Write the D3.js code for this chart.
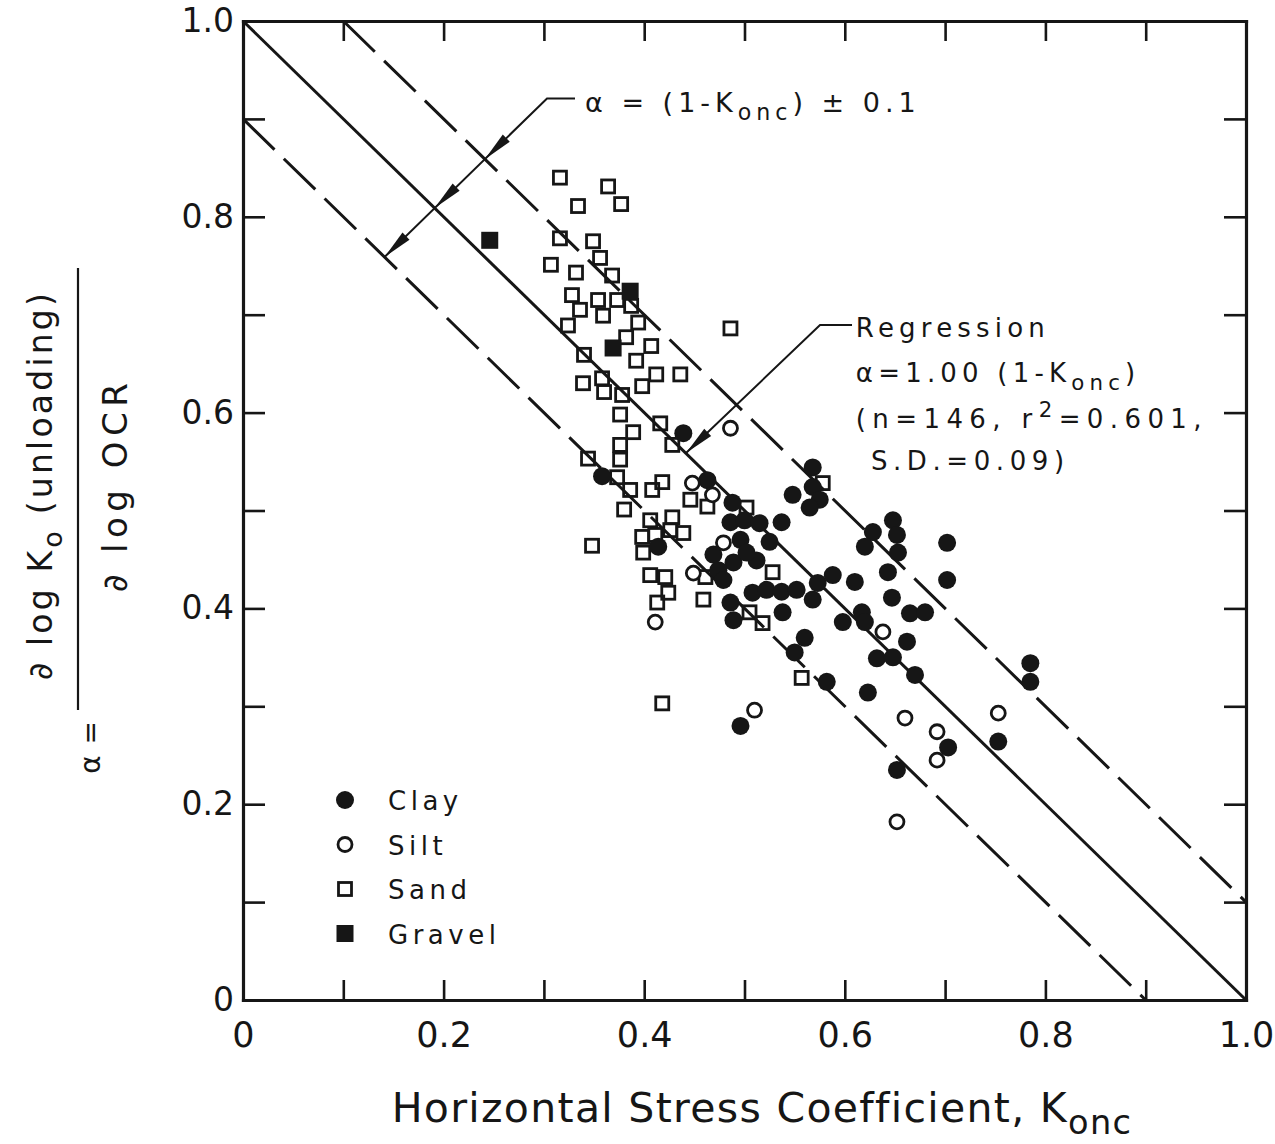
<!DOCTYPE html>
<html>
<head>
<meta charset="utf-8">
<script src="https://cdn.jsdelivr.net/npm/d3@7"></script>
<style>
  body { margin: 0; background: #fff; }
  svg text { font-family: "DejaVu Sans", sans-serif; fill: #161616; }
</style>
</head>
<body>
<svg id="chart" width="1275" height="1144"></svg>
<script>
// K_onc (x) and alpha (y), per soil type
var clayK = [0.358, 0.439, 0.463, 0.488, 0.486, 0.500, 0.515, 0.537, 0.496, 0.525,
             0.469, 0.489, 0.512, 0.502, 0.474, 0.479, 0.414, 0.486, 0.489, 0.508,
             0.522, 0.537, 0.552, 0.568, 0.573, 0.588, 0.538, 0.598, 0.560, 0.550,
             0.568, 0.548, 0.568, 0.575, 0.565, 0.628, 0.620, 0.648, 0.652, 0.653,
             0.702, 0.643, 0.702, 0.610, 0.647, 0.617, 0.665, 0.680, 0.620, 0.662,
             0.632, 0.648, 0.785, 0.785, 0.582, 0.670, 0.623, 0.703, 0.753, 0.652,
             0.496];
var clayA = [0.535, 0.579, 0.531, 0.508, 0.488, 0.490, 0.487, 0.488, 0.470, 0.468,
             0.455, 0.447, 0.449, 0.457, 0.439, 0.429, 0.463, 0.406, 0.388, 0.416,
             0.419, 0.417, 0.419, 0.409, 0.426, 0.434, 0.396, 0.386, 0.370, 0.355,
             0.544, 0.516, 0.524, 0.511, 0.503, 0.478, 0.463, 0.490, 0.475, 0.457,
             0.467, 0.437, 0.429, 0.427, 0.411, 0.396, 0.395, 0.396, 0.386, 0.366,
             0.349, 0.350, 0.344, 0.325, 0.325, 0.332, 0.314, 0.258, 0.264, 0.235,
             0.280];

var siltK = [0.486, 0.448, 0.468, 0.479, 0.449, 0.411, 0.510, 0.638, 0.753, 0.660, 0.692, 0.692, 0.652];
var siltA = [0.584, 0.528, 0.516, 0.467, 0.436, 0.386, 0.296, 0.376, 0.293, 0.288, 0.274, 0.245, 0.182];

var sandK = [0.344, 0.373, 0.386, 0.380, 0.348, 0.376, 0.389, 0.376, 0.376, 0.428,
             0.418, 0.408, 0.446, 0.463, 0.502, 0.406, 0.428, 0.398, 0.411, 0.426,
             0.439, 0.399, 0.528, 0.461, 0.406, 0.421, 0.424, 0.413, 0.459, 0.505,
             0.518, 0.578, 0.418, 0.557, 0.486, 0.316, 0.364, 0.334, 0.377, 0.316,
             0.349, 0.307, 0.356, 0.332, 0.368, 0.328, 0.354, 0.336, 0.324, 0.359,
             0.387, 0.394, 0.382, 0.407, 0.340, 0.392, 0.339, 0.358, 0.360, 0.398,
             0.412, 0.436, 0.378, 0.416, 0.373];
var sandA = [0.553, 0.534, 0.521, 0.501, 0.464, 0.598, 0.580, 0.567, 0.552, 0.567,
             0.529, 0.521, 0.511, 0.504, 0.503, 0.490, 0.493, 0.473, 0.475, 0.480,
             0.477, 0.457, 0.437, 0.432, 0.434, 0.432, 0.416, 0.406, 0.409, 0.396,
             0.385, 0.528, 0.303, 0.329, 0.686, 0.840, 0.831, 0.811, 0.813, 0.778,
             0.775, 0.751, 0.758, 0.743, 0.740, 0.720, 0.715, 0.705, 0.689, 0.699,
             0.709, 0.692, 0.677, 0.668, 0.659, 0.653, 0.630, 0.635, 0.621, 0.627,
             0.639, 0.639, 0.618, 0.589, 0.715];

var gravelK = [0.246, 0.386, 0.369];
var gravelA = [0.776, 0.724, 0.666];

// alpha = (1 - K) + offset
var guideOffsets = [0.1, 0, -0.1];

var xTicks = [0, 0.1, 0.2, 0.3, 0.4, 0.5, 0.6, 0.7, 0.8, 0.9, 1.0];
var xLabels = ["0", "", "0.2", "", "0.4", "", "0.6", "", "0.8", "", "1.0"];
var yTicks = [0, 0.1, 0.2, 0.3, 0.4, 0.5, 0.6, 0.7, 0.8, 0.9, 1.0];
var yLabels = ["0", "", "0.2", "", "0.4", "", "0.6", "", "0.8", "", "1.0"];

var legendNames = ["Clay", "Silt", "Sand", "Gravel"];

// annotation anchors (data units)
var bandArrow = [[0.1411, 0.7589], [0.3031, 0.9209], [0.331, 0.9209]];
var regArrow = [[0.4417, 0.5587], [0.5753, 0.6895], [0.6072, 0.6895]];

var ink = "#161616";
var svg = d3.select("#chart");

var x = d3.scaleLinear().domain([0, 1]).range([243, 1246]);
var y = d3.scaleLinear().domain([0, 1]).range([1000, 21]);

function fmtFrom(ticks, labels) {
  return function (d) {
    var i = ticks.findIndex(function (t) { return Math.abs(t - d) < 1e-9; });
    return i < 0 ? "" : labels[i];
  };
}

function styleAxis(g, size) {
  g.style("color", ink)
    .attr("font-family", "DejaVu Sans, sans-serif")
    .attr("font-size", size);
  g.selectAll("line").attr("stroke-width", 2.6);
  g.selectAll("path.domain").attr("stroke-width", 3.2).attr("stroke-linecap", "square");
}

// frame and inward ticks on all four sides
svg.append("g")
  .attr("transform", "translate(0,1000)")
  .call(d3.axisBottom(x).tickValues(xTicks).tickSize(-20).tickSizeOuter(0)
        .tickPadding(22).tickFormat(fmtFrom(xTicks, xLabels)))
  .call(styleAxis, 35);

svg.append("g")
  .attr("transform", "translate(243,0)")
  .call(d3.axisLeft(y).tickValues(yTicks).tickSize(-22).tickSizeOuter(0)
        .tickPadding(9).tickFormat(fmtFrom(yTicks, yLabels)))
  .call(styleAxis, 33);

svg.append("g")
  .attr("transform", "translate(0,21)")
  .call(d3.axisTop(x).tickValues(xTicks).tickSize(-20).tickSizeOuter(0).tickFormat(""))
  .call(styleAxis, 10);

svg.append("g")
  .attr("transform", "translate(1246,0)")
  .call(d3.axisRight(y).tickValues(yTicks).tickSize(-22).tickSizeOuter(0).tickFormat(""))
  .call(styleAxis, 10);

// guide lines: solid 1-K and dashed +/- 0.1
var line = d3.line().x(function (d) { return x(d[0]); }).y(function (d) { return y(d[1]); });

svg.append("g").selectAll("path")
  .data(guideOffsets)
  .join("path")
  .attr("d", function (c) {
    var k0 = Math.max(0, c), k1 = Math.min(1, 1 + c);
    return line([[k0, 1 + c - k0], [k1, 1 + c - k1]]);
  })
  .attr("fill", "none")
  .attr("stroke", ink)
  .attr("stroke-width", 3)
  .attr("stroke-dasharray", function (c) { return c === 0 ? null : "44,13"; });

// arrow heads
function arrowHead(g, tip, from) {
  var px = x(tip[0]), py = y(tip[1]);
  var fx = x(from[0]), fy = y(from[1]);
  var dx = px - fx, dy = py - fy, len = Math.sqrt(dx * dx + dy * dy);
  dx /= len; dy /= len;
  var L = 30, w = 5;
  var bx = px - dx * L, by = py - dy * L;
  g.append("path")
    .attr("d", "M" + px + "," + py + "L" + (bx - dy * w) + "," + (by + dx * w) +
               "L" + (bx + dy * w) + "," + (by - dx * w) + "Z")
    .attr("fill", ink);
}

var ann = svg.append("g");
ann.append("path").attr("d", line(bandArrow)).attr("fill", "none")
  .attr("stroke", ink).attr("stroke-width", 2);
guideOffsets.forEach(function (c) {
  var b = bandArrow[0][1] - bandArrow[0][0];
  var k = (1 + c - b) / 2;
  arrowHead(ann, [k, k + b], bandArrow[1]);
});

ann.append("path").attr("d", line(regArrow)).attr("fill", "none")
  .attr("stroke", ink).attr("stroke-width", 2);
arrowHead(ann, regArrow[0], regArrow[1]);

// text with sub/superscripts
function rich(g, px, py, parts, size, spacing, anchor) {
  var t = g.append("text")
    .attr("x", px).attr("y", py)
    .attr("font-size", size)
    .attr("letter-spacing", spacing)
    .attr("text-anchor", anchor || "start");
  var shift = 0;
  parts.forEach(function (p) {
    var s = p[1] || "n";
    var target = s === "sub" ? size * 0.3 : s === "sup" ? -size * 0.42 : 0;
    t.append("tspan")
      .attr("dy", target - shift)
      .attr("font-size", s === "n" ? size : size * 0.82)
      .text(p[0]);
    shift = target;
  });
  return t;
}

rich(svg, x(0.341), y(0.907), [["α = (1-K"], ["onc", "sub"], [") ± 0.1"]], 27, 5);

rich(svg, x(0.611), y(0.677), [["Regression"]], 26, 5.2);
rich(svg, x(0.611), y(0.631), [["α=1.00 (1-K"], ["onc", "sub"], [")"]], 26, 5.2);
rich(svg, x(0.611), y(0.584), [["(n=146,  r"], ["2", "sup"], ["=0.601,"]], 26, 6.4);
rich(svg, x(0.626), y(0.541), [["S.D.=0.09)"]], 26, 5.6);

// axis titles
rich(svg, 762, 1122, [["Horizontal Stress Coefficient, K"], ["onc", "sub"]], 41, 1.3, "middle");

var yt = svg.append("g").attr("transform", "translate(0,485) rotate(-90)");
rich(yt, 0, 52, [["∂ log K"], ["o", "sub"], [" (unloading)"]], 33, 3.2, "middle");
rich(yt, 0, 127, [["∂ log OCR"]], 34, 5.5, "middle");
yt.append("line").attr("x1", -225).attr("x2", 217).attr("y1", 78).attr("y2", 78)
  .attr("stroke", ink).attr("stroke-width", 2.2);
rich(yt, -235, 100, [["α ="]], 28, 1, "end");

// data markers
var pts = function (a, b) { return d3.zip(a, b); };

svg.append("g").selectAll("rect")
  .data(pts(sandK, sandA)).join("rect")
  .attr("x", function (d) { return x(d[0]) - 6.5; })
  .attr("y", function (d) { return y(d[1]) - 6.5; })
  .attr("width", 13).attr("height", 13)
  .attr("fill", "none").attr("stroke", ink).attr("stroke-width", 2.8);

svg.append("g").selectAll("circle")
  .data(pts(clayK, clayA)).join("circle")
  .attr("cx", function (d) { return x(d[0]); })
  .attr("cy", function (d) { return y(d[1]); })
  .attr("r", 9).attr("fill", ink);

svg.append("g").selectAll("circle")
  .data(pts(siltK, siltA)).join("circle")
  .attr("cx", function (d) { return x(d[0]); })
  .attr("cy", function (d) { return y(d[1]); })
  .attr("r", 7).attr("fill", "#fff").attr("stroke", ink).attr("stroke-width", 2.8);

svg.append("g").selectAll("rect")
  .data(pts(gravelK, gravelA)).join("rect")
  .attr("x", function (d) { return x(d[0]) - 8.5; })
  .attr("y", function (d) { return y(d[1]) - 8.5; })
  .attr("width", 17).attr("height", 17)
  .attr("fill", ink);

// legend
var lg = svg.append("g").attr("transform", "translate(345,800)");
var rows = lg.selectAll("g").data(legendNames).join("g")
  .attr("transform", function (d, i) { return "translate(0," + (i * 44.5) + ")"; });
rows.each(function (d, i) {
  var r = d3.select(this);
  if (i === 0) r.append("circle").attr("r", 9).attr("fill", ink);
  if (i === 1) r.append("circle").attr("r", 7).attr("fill", "#fff").attr("stroke", ink).attr("stroke-width", 2.8);
  if (i === 2) r.append("rect").attr("x", -6.5).attr("y", -6.5).attr("width", 13).attr("height", 13)
    .attr("fill", "none").attr("stroke", ink).attr("stroke-width", 2.8);
  if (i === 3) r.append("rect").attr("x", -8.5).attr("y", -8.5).attr("width", 17).attr("height", 17).attr("fill", ink);
});
rows.append("text").attr("x", 43).attr("y", 10).attr("font-size", 26)
  .attr("letter-spacing", 4.5).text(function (d) { return d; });
</script>
</body>
</html>
